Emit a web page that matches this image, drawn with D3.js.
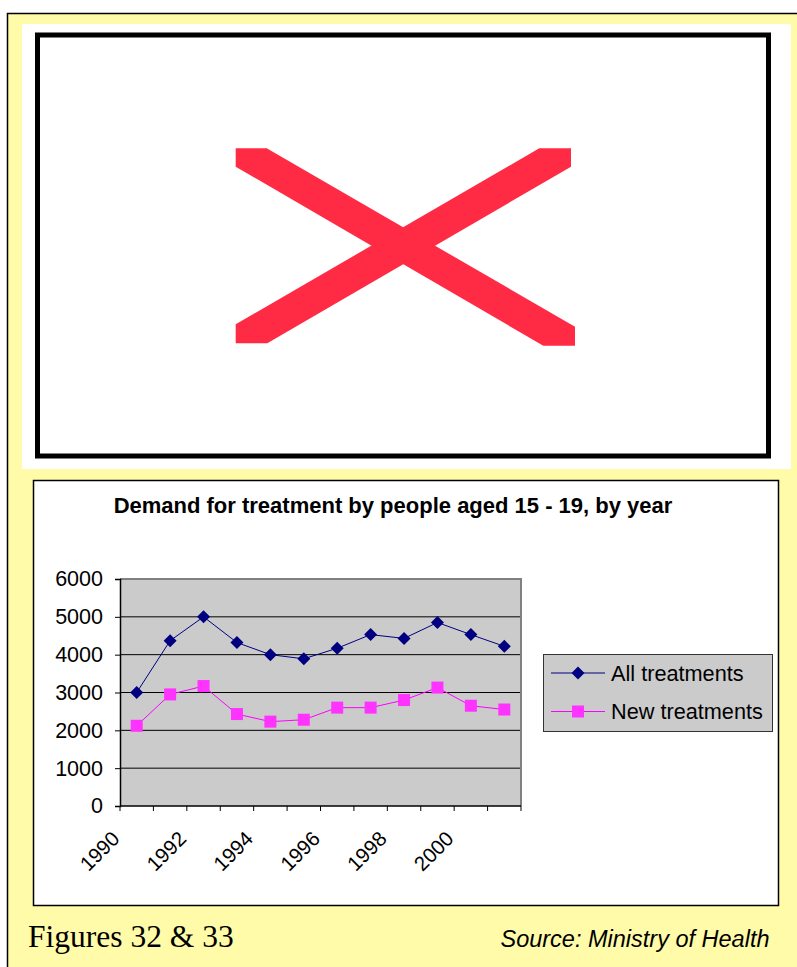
<!DOCTYPE html>
<html>
<head>
<meta charset="utf-8">
<script src="https://cdn.jsdelivr.net/npm/d3@7"></script>
<style>
  body { margin: 0; background: #fff; }
  svg { display: block; }
</style>
</head>
<body>
<svg id="page" width="797" height="967"></svg>
<script>
// Chart data
const years = ["1990", "1991", "1992", "1993", "1994", "1995", "1996", "1997", "1998", "1999", "2000", "2001"];
const allTreatments = [3000, 4370, 5000, 4320, 4000, 3890, 4170, 4530, 4430, 4850, 4530, 4220];
const newTreatments = [2120, 2950, 3170, 2430, 2230, 2280, 2600, 2600, 2800, 3130, 2650, 2550];
const yTicks = [0, 1000, 2000, 3000, 4000, 5000, 6000];
const seriesNames = ["All treatments", "New treatments"];

const svg = d3.select("#page");
const yellow = "#fffba8";
const plotGray = "#cbcbcb";

// Page frame: yellow panel with black edge
svg.append("rect")
  .attr("x", 7.5).attr("y", 13.5)
  .attr("width", 820).attr("height", 980)
  .attr("fill", yellow)
  .attr("stroke", "#000").attr("stroke-width", 1.5);

// White panel holding the (missing) picture
svg.append("rect")
  .attr("x", 22).attr("y", 24)
  .attr("width", 769).attr("height", 445)
  .attr("fill", "#fff");

svg.append("rect")
  .attr("x", 37.5).attr("y", 35)
  .attr("width", 731).attr("height", 421)
  .attr("fill", "#fff")
  .attr("stroke", "#000").attr("stroke-width", 5);

// Red cross of the broken image
const cross = svg.append("g").attr("fill", "#ff2b45");
cross.append("polygon")
  .attr("points", "235.7,148.3 266.7,148.3 575,326.7 575,345.7 543.3,345.7 235.7,166.7");
cross.append("polygon")
  .attr("points", "571,148.3 539.3,148.3 235.7,324.3 235.7,343.3 267.3,343.3 571,166.7");

// Chart box
svg.append("rect")
  .attr("x", 33.5).attr("y", 480.5)
  .attr("width", 745).attr("height", 425)
  .attr("fill", "#fff")
  .attr("stroke", "#000").attr("stroke-width", 1.5);

svg.append("text")
  .attr("x", 393).attr("y", 512.5)
  .attr("text-anchor", "middle")
  .attr("font-family", "Liberation Sans, Arial, sans-serif")
  .attr("font-weight", "bold")
  .attr("font-size", 22)
  .text("Demand for treatment by people aged 15 - 19, by year");

// Scales
const plotLeft = 120, plotRight = 521, plotTop = 579, plotBottom = 806;
const x = d3.scaleBand().domain(years).range([plotLeft, plotRight]);
const y = d3.scaleLinear().domain([0, 6000]).range([plotBottom, plotTop]);
const cx = d => x(d) + x.bandwidth() / 2;

// Plot area
const plot = svg.append("g");
plot.append("rect")
  .attr("x", plotLeft).attr("y", plotTop)
  .attr("width", plotRight - plotLeft).attr("height", plotBottom - plotTop)
  .attr("fill", plotGray);

plot.selectAll("line.grid")
  .data(yTicks.filter(v => v > 0 && v < 6000))
  .join("line")
  .attr("class", "grid")
  .attr("x1", plotLeft).attr("x2", plotRight)
  .attr("y1", d => y(d)).attr("y2", d => y(d))
  .attr("stroke", "#000").attr("stroke-width", 1);

// top and right edges of the plot area
plot.append("path")
  .attr("d", `M${plotLeft},${y(6000)}H${plotRight}V${plotBottom}`)
  .attr("fill", "none")
  .attr("stroke", "#808080").attr("stroke-width", 2);

// Y axis
const yAxis = svg.append("g")
  .attr("transform", `translate(${plotLeft},0)`)
  .call(d3.axisLeft(y).tickValues(yTicks).tickSize(5).tickPadding(12).tickFormat(d3.format("d")));
yAxis.select(".domain").attr("stroke", "#000").attr("stroke-width", 1.5);
yAxis.selectAll(".tick line").attr("stroke", "#000");
yAxis.selectAll("text")
  .attr("font-family", "Liberation Sans, Arial, sans-serif")
  .attr("font-size", 21.5)
  .attr("fill", "#000");

// X axis: ticks between categories, labels on every other year
const xAxis = svg.append("g");
xAxis.append("line")
  .attr("x1", plotLeft).attr("x2", plotRight)
  .attr("y1", plotBottom).attr("y2", plotBottom)
  .attr("stroke", "#000").attr("stroke-width", 1.5);
xAxis.selectAll("line.tick")
  .data(years.map(d => x(d)).concat([plotRight]))
  .join("line")
  .attr("class", "tick")
  .attr("x1", d => d).attr("x2", d => d)
  .attr("y1", plotBottom).attr("y2", plotBottom + 5)
  .attr("stroke", "#000");
xAxis.selectAll("text")
  .data(years.filter((d, i) => i % 2 === 0))
  .join("text")
  .attr("transform", d => `translate(${cx(d) - 16},${plotBottom + 34}) rotate(-45)`)
  .attr("text-anchor", "end")
  .attr("font-family", "Liberation Sans, Arial, sans-serif")
  .attr("font-size", 20.5)
  .text(d => d);

// Series lines and markers
const line = d3.line().x((d, i) => cx(years[i])).y(d => y(d));

svg.append("path")
  .datum(newTreatments)
  .attr("d", line)
  .attr("fill", "none")
  .attr("stroke", "#ff00ff").attr("stroke-width", 1);

svg.append("path")
  .datum(allTreatments)
  .attr("d", line)
  .attr("fill", "none")
  .attr("stroke", "#000080").attr("stroke-width", 1);

svg.append("g").selectAll("rect")
  .data(newTreatments)
  .join("rect")
  .attr("x", (d, i) => cx(years[i]) - 6)
  .attr("y", d => y(d) - 6)
  .attr("width", 12).attr("height", 12)
  .attr("fill", "#ff33ff");

const diamond = "M0,-6.5L6.5,0L0,6.5L-6.5,0Z";
svg.append("g").selectAll("path")
  .data(allTreatments)
  .join("path")
  .attr("transform", (d, i) => `translate(${cx(years[i])},${y(d)})`)
  .attr("d", diamond)
  .attr("fill", "#000080");

// Legend
const legend = svg.append("g");
legend.append("rect")
  .attr("x", 543.5).attr("y", 654.5)
  .attr("width", 229).attr("height", 77)
  .attr("fill", plotGray)
  .attr("stroke", "#333").attr("stroke-width", 1);

const legendRows = [
  { name: seriesNames[0], color: "#000080", mark: "diamond", yy: 673 },
  { name: seriesNames[1], color: "#ff00ff", mark: "square", yy: 711.5 }
];
legendRows.forEach(r => {
  legend.append("line")
    .attr("x1", 551).attr("x2", 605)
    .attr("y1", r.yy).attr("y2", r.yy)
    .attr("stroke", r.color).attr("stroke-width", 1);
  if (r.mark === "diamond") {
    legend.append("path")
      .attr("transform", `translate(578,${r.yy})`)
      .attr("d", diamond)
      .attr("fill", r.color);
  } else {
    legend.append("rect")
      .attr("x", 572).attr("y", r.yy - 6)
      .attr("width", 12).attr("height", 12)
      .attr("fill", "#ff33ff");
  }
  legend.append("text")
    .attr("x", 611).attr("y", r.yy + 7.5)
    .attr("font-family", "Liberation Sans, Arial, sans-serif")
    .attr("font-size", 21.7)
    .text(r.name);
});

// Captions under the chart
svg.append("text")
  .attr("x", 28).attr("y", 946.5)
  .attr("font-family", "Liberation Serif, Times New Roman, serif")
  .attr("font-size", 31.5)
  .text("Figures 32 & 33");

svg.append("text")
  .attr("x", 769.5).attr("y", 946.5)
  .attr("text-anchor", "end")
  .attr("font-family", "Liberation Sans, Arial, sans-serif")
  .attr("font-style", "italic")
  .attr("font-size", 23.5)
  .text("Source: Ministry of Health");
</script>
</body>
</html>
